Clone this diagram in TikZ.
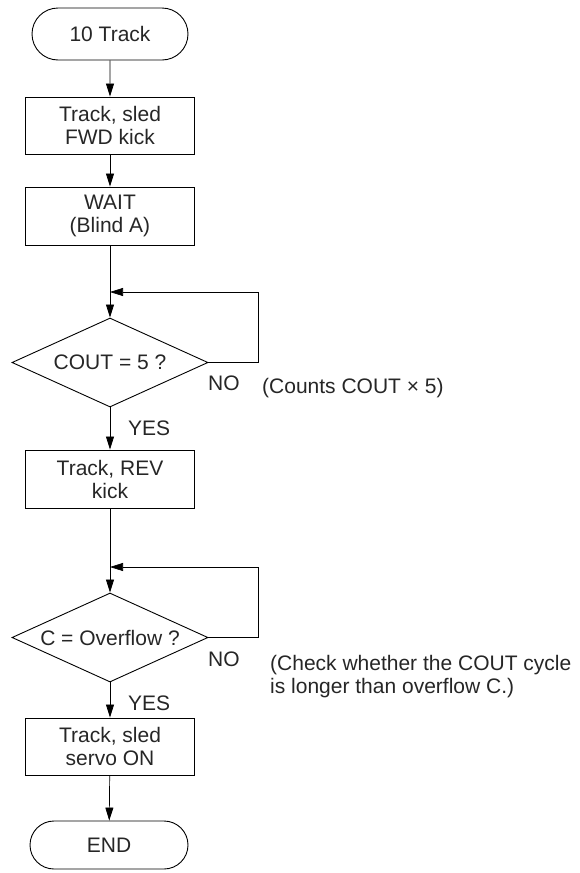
\documentclass[tikz,border=0pt]{standalone}
\usepackage{fontspec}
\setmainfont{Liberation Sans}
\usetikzlibrary{shapes.geometric,shapes.misc,arrows.meta}
\begin{document}
\begin{tikzpicture}[x=1pt,y=-1pt,
  every node/.style={font=\fontsize{21}{23}\selectfont, text=black!85},
  proc/.style={draw, line width=0.9pt, minimum width=169pt, minimum height=57pt, align=center, inner sep=0},
  term/.style={draw, line width=0.9pt, rounded rectangle, minimum width=156pt, minimum height=52pt, inner sep=0},
  dec/.style={draw, line width=0.9pt, diamond, aspect=2.2, minimum width=196pt, minimum height=89pt, inner sep=0},
  flow/.style={-{Triangle[length=13pt,width=8pt]}, line width=0.7pt},
  lbl/.style={anchor=base west, inner sep=0},
]
\useasboundingbox (0,0) rectangle (579,873);
\node[term] (start) at (110,34) {10 Track};
\node[proc] (b1) at (110,125.5) {Track, sled\\FWD kick};
\node[proc, minimum height=58pt] (b2) at (110,216) {WAIT\\(Blind A)};
\coordinate (j1) at (110,292);
\coordinate (r1) at (258,292);
\node[dec] (d1) at (110,362.5) {COUT = 5 ?};
\node[proc, minimum height=58pt] (b3) at (110,479) {Track, REV\\kick};
\coordinate (j2) at (110,567);
\coordinate (r2) at (258,567);
\node[dec] (d2) at (110,637.5) {C = Overflow ?};
\node[proc] (b4) at (110,746.5) {Track, sled\\servo ON};
\node[term, minimum height=48pt, minimum width=158pt] (end) at (109,845) {END};

\draw[flow] (start) -- (b1);
\draw[flow] (b1) -- (b2);
\draw[flow] (b2) -- (d1);
\draw[flow] (d1.east) -| (r1) -- (j1);
\draw[flow] (d1) -- (b3);
\draw[flow] (b3) -- (d2);
\draw[flow] (d2.east) -| (r2) -- (j2);
\draw[flow] (d2) -- (b4);
\draw[flow] (b4) -- (end);

\node[lbl] (no1) at (208,390) {NO};
\node[lbl] (yes1) at (128,435) {YES};
\node[lbl] (c1) at (262,393) {(Counts COUT × 5)};
\node[lbl] (no2) at (208,666) {NO};
\node[lbl] (yes2) at (128,710) {YES};
\node[lbl] (c2a) at (270,670) {(Check whether the COUT cycle};
\node[lbl] (c2b) at (270,693) {is longer than overflow C.)};
\end{tikzpicture}
\end{document}
